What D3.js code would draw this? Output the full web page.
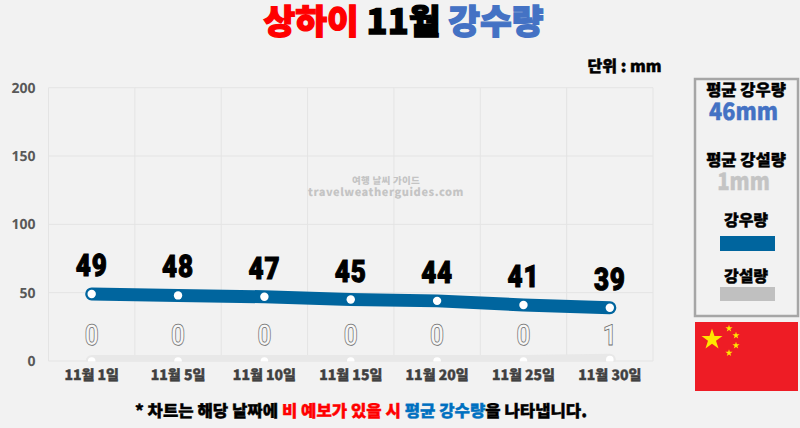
<!DOCTYPE html>
<html><head><meta charset="utf-8">
<style>html,body{margin:0;padding:0;background:#f2f2f2;overflow:hidden}svg{display:block}
text{font-family:"Noto Sans CJK KR","Noto Sans",sans-serif;font-weight:900;text-rendering:geometricPrecision}</style>
<script src="https://cdn.jsdelivr.net/npm/d3@7/dist/d3.min.js"></script></head><body>
<script>
const categories=["11월 1일","11월 5일","11월 10일","11월 15일","11월 20일","11월 25일","11월 30일"];
const rain=[49,48,47,45,44,41,39];
const snow=[0,0,0,0,0,0,1];
const yTicks=[0,50,100,150,200];
const titleParts=[["상하이","#ff0000"],[" 11월 ","#000000"],["강수량","#4472c4"]];
const noteParts=[["* 차트는 해당 날짜에 ","#000"],["비 예보가 있을 시","#ff0000"],[" ","#000"],["평균 강수량","#0070c0"],["을 나타냅니다.","#000"]];
const panelItems=[["평균 강우량",96,"#000",16.5,746,1],["46mm",120,"#4472c4",24,743.5,.9],["평균 강설량",166,"#000",16.5,746,1],["1mm",190,"#c4c4c4",24,743.5,.85],["강우량",226,"#000",16,746,1],["강설량",282,"#000",16,746,1]];

const W=800,H=428;
const svg=d3.select("body").append("svg").attr("width",W).attr("height",H);
svg.append("rect").attr("width",W).attr("height",H).attr("fill","#f2f2f2");
const x=d3.scaleBand().domain(categories).range([48.5,653]);
const y=d3.scaleLinear().domain([0,200]).range([361,87.7]);
const cx=d=>x(d)+x.bandwidth()/2;

const title=svg.append("text").attr("x",403.5).attr("y",33.5).attr("text-anchor","middle").attr("font-size",34.5)
  .attr("stroke-width",1.3).style("white-space","pre");
titleParts.forEach(p=>title.append("tspan").text(p[0]).attr("fill",p[1]).attr("stroke",p[1]));
svg.append("text").attr("x",624.5).attr("y",72).attr("text-anchor","middle").attr("font-size",16).attr("fill","#000").attr("stroke","#000").attr("stroke-width",.5).text("단위 : mm");

const g=svg.append("g");
g.selectAll(".h").data(yTicks).join("line").attr("x1",48.5).attr("x2",653).attr("y1",d=>y(d)).attr("y2",d=>y(d)).attr("stroke","#e4e4e4").attr("stroke-width",1);
const edges=categories.map(c=>x(c)).concat([653]);
g.selectAll(".v").data(edges).join("line").attr("x1",d=>d).attr("x2",d=>d).attr("y1",87.7).attr("y2",361).attr("stroke","#e4e4e4").attr("stroke-width",1);

const yAxis=d3.axisLeft(y).tickValues(yTicks).tickSize(0).tickPadding(13);
const ya=svg.append("g").attr("transform","translate(48.5,0)").call(yAxis);
ya.select(".domain").remove();
ya.selectAll("text").attr("font-size",14).attr("fill","#595959").style("font-weight",700).style("font-family","'Noto Sans',sans-serif");
const xAxis=d3.axisBottom(x).tickSize(0).tickPadding(9);
const xa=svg.append("g").attr("transform","translate(0,361)").call(xAxis);
xa.select(".domain").remove();
xa.selectAll("text").attr("font-size",14).attr("fill","#404040").attr("stroke","#404040").attr("stroke-width",.4);

svg.append("g").attr("text-anchor","middle").selectAll("text").data([["여행 날씨 가이드",184,9.5],["travelweatherguides.com",196,11]]).join("text")
  .attr("x",386).attr("y",d=>d[1]).attr("font-size",d=>d[2]).attr("fill","#c4c4c4").attr("letter-spacing",d=>d[2]>10?0.55:0.3).text(d=>d[0]);

svg.append("defs").append("clipPath").attr("id","pc").append("rect").attr("x",40).attr("y",80).attr("width",620).attr("height",281.5);
const line=d3.line().x((d,i)=>cx(categories[i])).y(d=>y(d));
const pg=svg.append("g").attr("clip-path","url(#pc)");
pg.append("path").datum(snow).attr("d",line).attr("fill","none").attr("stroke","#e8e8e8").attr("stroke-width",12).attr("stroke-linecap","round");
pg.selectAll(".sd").data(snow).join("circle").attr("cx",(d,i)=>cx(categories[i])).attr("cy",d=>y(d)).attr("r",3.8).attr("fill","#fff");
svg.append("path").datum(rain).attr("d",line).attr("fill","none").attr("stroke","#00659e").attr("stroke-width",13).attr("stroke-linecap","round");
svg.selectAll(".rd").data(rain).join("circle").attr("cx",(d,i)=>cx(categories[i])).attr("cy",d=>y(d)).attr("r",4.2).attr("fill","#fff");

const numFont="'Roboto',sans-serif";
svg.append("g").attr("text-anchor","middle").selectAll("text").data(rain).join("text")
  .attr("transform",(d,i)=>`translate(${cx(categories[i])},${y(d)-18}) scale(.84,1)`).attr("font-size",31).attr("letter-spacing",1).attr("fill","#000").attr("stroke","#000").attr("stroke-width",1.1).style("font-weight",900).style("font-family",numFont).text(d=>d);
svg.append("g").attr("text-anchor","middle").selectAll("text").data(snow).join("text")
  .attr("transform",(d,i)=>`translate(${cx(categories[i])},345) scale(.84,1)`).attr("font-size",29).attr("fill","#f7f7f7").attr("stroke","#6e6e6e").attr("stroke-width",.8).style("font-weight",700).style("font-family",numFont).text(d=>d);

svg.append("text").attr("x",361).attr("y",417).attr("text-anchor","middle").attr("font-size",16.7).attr("stroke-width",.4).style("white-space","pre")
  .selectAll("tspan").data(noteParts).join("tspan").text(d=>d[0]).attr("fill",d=>d[1]).attr("stroke",d=>d[1]);

svg.append("rect").attr("x",695).attr("y",79).attr("width",103).attr("height",237).attr("fill","none").attr("stroke","#a6a6a6").attr("stroke-width",2.5);
svg.append("g").attr("text-anchor","middle").selectAll("text").data(panelItems).join("text")
  .attr("transform",d=>`translate(${d[4]},${d[1]}) scale(${d[5]},1)`).attr("font-size",d=>d[3]).attr("fill",d=>d[2]).attr("stroke",d=>d[2]).attr("stroke-width",.4).text(d=>d[0]);
svg.append("rect").attr("x",720).attr("y",236).attr("width",55).attr("height",15).attr("fill","#00659e");
svg.append("rect").attr("x",720).attr("y",287).attr("width",55).attr("height",14).attr("fill","#c0c0c0");

svg.append("rect").attr("x",695).attr("y",322).attr("width",103).attr("height",69).attr("fill","#ee1c25");
const stars=[[712,339.5,8.5],[729,328.5,2.9],[736,335.5,2.9],[736,345.5,2.9],[729,353,2.9]];
svg.append("g").selectAll("path").data(stars).join("path")
  .attr("transform",d=>`translate(${d[0]},${d[1]})`)
  .attr("d",d=>d3.symbol(d3.symbolStar,d[2]*d[2]*1.9)()).attr("fill","#ffe600");
</script></body></html>
